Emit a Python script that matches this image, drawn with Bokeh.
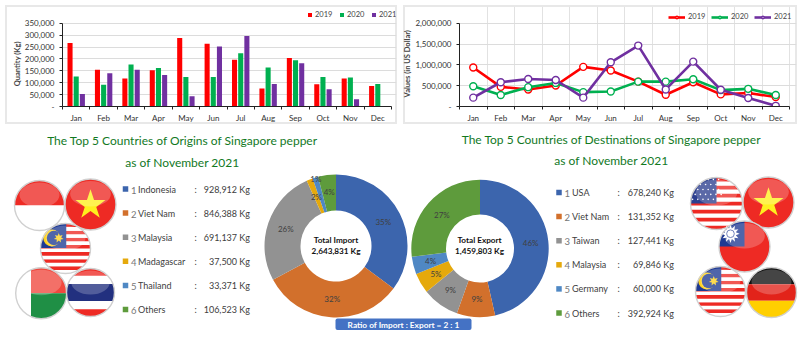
import numpy as np
from bokeh.plotting import figure
from bokeh.layouts import column, row
from bokeh.models import Range1d, FixedTicker, NumeralTickFormatter, Legend, LegendItem
from bokeh.core.properties import value
from bokeh.embed import file_html
from bokeh.resources import INLINE

months = ["Jan", "Feb", "Mar", "Apr", "May", "Jun", "Jul", "Aug", "Sep", "Oct", "Nov", "Dec"]
years = ["2019", "2020", "2021"]
qty_2019 = [267000, 155000, 118000, 153000, 288000, 264000, 197000, 76000, 204000, 94000, 118000, 86000]
qty_2020 = [126000, 92000, 177000, 162000, 124000, 124000, 224000, 164000, 195000, 124000, 122000, 95000]
qty_2021 = [53000, 140000, 155000, 133000, 43000, 253000, 297000, 95000, 182000, 73000, 30000, 0]
val_2019 = [937000, 472000, 410000, 504000, 953000, 866000, 598000, 283000, 583000, 291000, 323000, 228000]
val_2020 = [488000, 276000, 465000, 567000, 346000, 362000, 598000, 598000, 654000, 394000, 425000, 276000]
val_2021 = [213000, 583000, 661000, 638000, 213000, 1063000, 1465000, 410000, 1079000, 402000, 205000, 16000]
qty_ticks = [0, 50000, 100000, 150000, 200000, 250000, 300000, 350000]
val_ticks = [0, 500000, 1000000, 1500000, 2000000]

imp_names = ["Indonesia", "Viet Nam", "Malaysia", "Madagascar", "Thailand", "Others"]
imp_vals = [928912, 846388, 691137, 37500, 33371, 106523]
imp_pct = ["35%", "32%", "26%", "2%", "1%", "4%"]
exp_names = ["USA", "Viet Nam", "Taiwan", "Malaysia", "Germany", "Others"]
exp_vals = [678240, 131352, 127441, 69846, 60000, 392924]
exp_pct = ["46%", "9%", "9%", "5%", "4%", "27%"]
slice_colors = ["#3c65ad", "#d2702c", "#929292", "#e5a90c", "#4f88c4", "#5e9b3c"]
year_colors = ["#ff0000", "#00b050", "#7030a0"]

FONT = value("Lato")
AX = "#222222"
FRAME_TOP_RATIO = 101 / 84  # room above the top tick for the legend
NB = "\u00a0" * 8


def panel_css(x0, x1, y0, y1, w=2, col="#e8e8e8"):
    return {"background": (
        f"linear-gradient(#fff,#fff) {x0+w}px {y0+w}px/{x1-x0-2*w}px {y1-y0-2*w}px no-repeat,"
        f"linear-gradient({col},{col}) {x0}px {y0}px/{x1-x0}px {y1-y0}px no-repeat,#fff")}


def style_top(p, ylabel, ticks, box):
    p.toolbar.logo = None
    p.border_fill_color = None
    p.background_fill_color = None
    p.styles = panel_css(*box)
    p.xaxis.ticker = FixedTicker(ticks=[i + 0.5 for i in range(12)], minor_ticks=list(range(13)))
    p.xaxis.major_label_overrides = {i + 0.5: m for i, m in enumerate(months)}
    p.xaxis.bounds = (0, 12)
    p.xaxis.major_tick_line_color = None
    p.xaxis.major_tick_out = 0
    p.xaxis.major_tick_in = 0
    p.xaxis.minor_tick_out = 3
    p.xaxis.minor_tick_in = 0
    p.xaxis.minor_tick_line_color = AX
    p.xaxis.axis_line_color = AX
    p.xaxis.major_label_standoff = 3
    p.yaxis.ticker = FixedTicker(ticks=ticks)
    p.yaxis.bounds = (ticks[0], ticks[-1])
    p.yaxis.formatter = NumeralTickFormatter(format="0,0")
    p.yaxis.major_label_overrides = {0: "-"}
    p.yaxis.axis_line_color = AX
    p.yaxis.major_tick_line_color = AX
    p.yaxis.major_tick_out = 3
    p.yaxis.major_tick_in = 0
    p.yaxis.minor_tick_line_color = None
    p.yaxis.major_label_standoff = 5
    p.yaxis.axis_label = ylabel + NB
    p.yaxis.axis_label_text_font = "Lato"
    p.yaxis.axis_label_text_font_style = "bold"
    p.yaxis.axis_label_text_font_size = "7.5px"
    p.yaxis.axis_label_standoff = 0
    for ax in (p.xaxis, p.yaxis):
        ax.major_label_text_font = "Lato"
        ax.major_label_text_font_size = "8px"
        ax.major_label_text_color = "#333333"
    p.ygrid.grid_line_color = "#dcdcdc"
    p.ygrid.ticker = FixedTicker(ticks=ticks)
    p.ygrid.bounds = (0, 12)
    p.outline_line_color = None


# ---------- bar chart
p1 = figure(width=400, height=125, output_backend="svg", toolbar_location=None,
            x_range=Range1d(0, 12 * 334 / 329), y_range=Range1d(0, qty_ticks[-1] * FRAME_TOP_RATIO),
            min_border_left=62, min_border_right=4, min_border_top=6, min_border_bottom=18)
style_top(p1, "Quantity (Kg)", qty_ticks, (5, 397, 5, 124))
p1.xgrid.grid_line_color = None
items = []
for k, (q, c) in enumerate(zip([qty_2019, qty_2020, qty_2021], year_colors)):
    x = np.arange(12) + 0.5 + (k - 1) * 0.225
    r = p1.vbar(x=x, top=q, width=0.185, fill_color=c, line_color=None)
    items.append(LegendItem(label=years[k], renderers=[r]))
lg1 = Legend(items=items, orientation="horizontal", location=(245, 87), background_fill_alpha=0,
             border_line_color=None, glyph_width=5, glyph_height=5, spacing=4, label_standoff=3,
             margin=0, padding=0, label_text_font="Lato", label_text_font_size="7.5px",
             label_text_color="#444444")
p1.add_layout(lg1)

# ---------- line chart
p2 = figure(width=400, height=125, output_backend="svg", toolbar_location=None,
            x_range=Range1d(0, 12 * 337 / 330), y_range=Range1d(0, val_ticks[-1] * FRAME_TOP_RATIO),
            min_border_left=59, min_border_right=4, min_border_top=6, min_border_bottom=18)
style_top(p2, "Values (in US Dollar)", val_ticks, (3, 397, 5, 124))
p2.xgrid.grid_line_color = "#e2e2e2"
p2.xgrid.ticker = FixedTicker(ticks=list(range(13)))
p2.xgrid.bounds = (val_ticks[0], val_ticks[-1])
items = []
xm = np.arange(12) + 0.5
for k, (v, c) in enumerate(zip([val_2019, val_2020, val_2021], year_colors)):
    l = p2.line(xm, v, line_color=c, line_width=2.6)
    m = p2.scatter(xm, v, size=7, fill_color="white", line_color=c, line_width=1.4)
    items.append(LegendItem(label=years[k], renderers=[l, m]))
lg2 = Legend(items=items, orientation="horizontal", location=(209, 85), background_fill_alpha=0,
             border_line_color=None, glyph_width=17, glyph_height=6, spacing=3, label_standoff=3,
             margin=0, padding=0, label_text_font="Lato", label_text_font_size="7.5px",
             label_text_color="#444444")
p2.add_layout(lg2)

# ---------- bottom: pixel canvas
p3 = figure(width=800, height=228, output_backend="svg", toolbar_location=None,
            x_range=Range1d(0, 800), y_range=Range1d(0, 228), min_border=0)
p3.axis.visible = False
p3.grid.visible = False
p3.outline_line_color = None


def Y(y):
    return 353 - np.asarray(y, dtype=float)


def txt(x, y, s, size="9px", color="#404040", align="left", style="normal"):
    p3.text([x], [float(Y(y))], text=[s], text_font=FONT, text_font_size=size, text_color=color,
            text_align=align, text_baseline="middle", text_font_style=style)


GREEN = "#12791f"
txt(182, 140, "The Top 5 Countries of Origins of Singapore pepper", "12px", GREEN, "center")
txt(182, 162, "as of November 2021", "12px", GREEN, "center")
txt(611, 139, "The Top 5 Countries of Destinations of Singapore pepper", "12px", GREEN, "center")
txt(611, 160, "as of November 2021", "12px", GREEN, "center")


def legend_block(names, vals, sq_x, y0, num_x, name_x, colon_x, val_x):
    for i, (n, v) in enumerate(zip(names, vals)):
        y = y0 + i * 24.1
        p3.scatter([sq_x], [float(Y(y))], marker="square", size=5.5, fill_color=slice_colors[i], line_color=None)
        txt(num_x, y + 1, str(i + 1), "9.5px", "#777777")
        txt(name_x, y, n)
        txt(colon_x, y, ":")
        txt(val_x, y, f"{v:,} Kg", align="right")


legend_block(imp_names, imp_vals, 125, 188.5, 130.5, 137.5, 194, 249.5)
legend_block(exp_names, exp_vals, 558.5, 192, 564, 571.5, 617, 673.5)


def donut(vals, pcts, cx, cy, r0, r1, label_r):
    vals = np.asarray(vals, dtype=float)
    frac = np.cumsum(vals) / vals.sum()
    a_start = np.pi / 2 - np.concatenate([[0], frac[:-1]]) * 2 * np.pi
    a_end = np.pi / 2 - frac * 2 * np.pi
    p3.annular_wedge([cx] * 6, [float(Y(cy))] * 6, inner_radius=r0, outer_radius=r1,
                     start_angle=a_end, end_angle=a_start, direction="anticlock",
                     fill_color=slice_colors, line_color=None)
    mid = (a_start + a_end) / 2
    lr = np.asarray(label_r, dtype=float)
    p3.text(cx + lr * np.cos(mid), Y(cy) + lr * np.sin(mid), text=pcts, text_font=FONT,
            text_font_size="8px", text_color="#404040", text_align="center", text_baseline="middle")


donut(imp_vals, imp_pct, 335.5, 245.5, 35.5, 71.5, [53, 53, 53, 53, 70, 54])
donut(exp_vals, exp_pct, 479.5, 248, 34, 68.7, [51] * 6)
txt(335.5, 239.5, "Total Import", "8.2px", "#111111", "center", "bold")
txt(335.5, 250, "2,643,831 Kg", "8.2px", "#111111", "center", "bold")
txt(479, 239.5, "Total Export", "8.2px", "#111111", "center", "bold")
txt(479, 250, "1,459,803 Kg", "8.2px", "#111111", "center", "bold")

p3.quad(left=[335], right=[471], top=[float(Y(318))], bottom=[float(Y(329.5))], fill_color="#4472c4",
        line_color=None, border_radius=2)
txt(403, 324, "Ratio of Import : Export = 2 : 1", "8.3px", "white", "center", "bold")


# ---------- flags
def clip(poly, rect):
    x0, x1, y0, y1 = rect
    planes = [(0, x0, 1), (0, x1, -1), (1, y0, 1), (1, y1, -1)]
    for ax, lim, sgn in planes:
        out = []
        for i in range(len(poly)):
            a, b = poly[i], poly[(i + 1) % len(poly)]
            ina, inb = sgn * (a[ax] - lim) >= 0, sgn * (b[ax] - lim) >= 0
            if ina:
                out.append(a)
            if ina != inb:
                t = (lim - a[ax]) / (b[ax] - a[ax])
                out.append((a[0] + t * (b[0] - a[0]), a[1] + t * (b[1] - a[1])))
        poly = out
        if not poly:
            break
    return poly


TH = np.linspace(0, 2 * np.pi, 120, endpoint=False)
UNIT = [(float(np.cos(t)), float(np.sin(t))) for t in TH]


def star(px, py, R, n=5, inner=0.382):
    a = np.pi / 2 + np.arange(2 * n) * np.pi / n
    rad = np.where(np.arange(2 * n) % 2 == 0, R, R * inner)
    return px + rad * np.cos(a), py + rad * np.sin(a)


def flag(cx, cy, r, bands, extra=None):
    yc = float(Y(cy))
    for col, rect in bands:
        poly = clip(UNIT, rect)
        if poly:
            p3.patch([cx + r * a for a, _ in poly], [yc + r * b for _, b in poly], fill_color=col, line_color=None)
    if extra:
        extra(cx, yc, r)
    # gloss and rim
    p3.ellipse([cx], [yc + 0.42 * r], width=1.6 * r, height=1.0 * r, fill_color="white", fill_alpha=0.22, line_color=None)
    p3.circle([cx], [yc], radius=r, fill_color=None, line_color="#d0d0d0", line_width=1.4)


ALL = (-1, 1, -1, 1)
RED = "#ee2a24"


def vn(cx, yc, r):
    xs, ys = star(cx, yc - 0.02 * r, 0.62 * r)
    p3.patch(xs, ys, fill_color="#ffef1e", line_color=None)


def my_stripes():
    edges = np.linspace(-1, 1, 15)
    return [(RED if i % 2 else "white", (-1, 1, edges[i], edges[i + 1])) for i in range(14)]


def my(cx, yc, r):
    p3.circle([cx - 0.55 * r], [yc + 0.42 * r], radius=0.34 * r, fill_color="#ffd21e", line_color=None)
    p3.circle([cx - 0.46 * r], [yc + 0.42 * r], radius=0.29 * r, fill_color="#1f3a93", line_color=None)
    xs, ys = star(cx - 0.27 * r, yc + 0.42 * r, 0.2 * r, n=7, inner=0.5)
    p3.patch(xs, ys, fill_color="#ffd21e", line_color=None)


MY_BANDS = my_stripes() + [("#1f3a93", (-1, 0.03, 0.02, 1))]


def us(cx, yc, r):
    px, py = [], []
    for j in range(5):
        for i in range(6):
            px.append(cx + r * (-0.92 + i * 0.2 + (j % 2) * 0.1))
            py.append(yc + r * (0.16 + j * 0.19))
    p3.scatter(px, py, marker="circle", size=1.6, fill_color="white", line_color=None)


def tw(cx, yc, r):
    xs, ys = star(cx - 0.55 * r, yc + 0.5 * r, 0.36 * r, n=12, inner=0.6)
    p3.patch(xs, ys, fill_color="white", line_color=None)
    p3.circle([cx - 0.55 * r], [yc + 0.5 * r], radius=0.15 * r, fill_color="white", line_color="#1f3a93", line_width=0.8)


us_edges = np.linspace(-1, 1, 14)
US_BANDS = [(RED if i % 2 == 0 else "white", (-1, 1, us_edges[i], us_edges[i + 1])) for i in range(13)]
US_BANDS += [("#2d3f8f", (-1, 0.0, 0.0, 1))]

# origins
flag(39, 205, 25, [(RED, (-1, 1, 0, 1)), ("white", (-1, 1, -1, 0))])
flag(90, 204, 25.5, [(RED, ALL)], vn)
flag(65, 248, 25, MY_BANDS, my)
flag(40.7, 292.7, 25.5, [("white", (-1, -0.4, -1, 1)), ("#f0483e", (-0.4, 1, 0, 1)), ("#1f8f45", (-0.4, 1, -1, 0))])
flag(90, 292, 24, [(RED, ALL), ("white", (-1, 1, -0.7, 0.7)), ("#22307f", (-1, 1, -0.35, 0.35))])
# destinations
flag(716, 203, 26, US_BANDS, us)
flag(768, 202, 25.5, [(RED, ALL)], vn)
flag(744, 246, 25.5, [(RED, ALL), ("#1f3a93", (-1, 0, 0, 1))], tw)
flag(720, 291, 25, MY_BANDS, my)
flag(771, 292, 25, [("#111111", (-1, 1, 0.33, 1)), ("#e2231a", (-1, 1, -0.33, 0.33)), ("#ffcf00", (-1, 1, -1, -0.33))])

page = column(row(p1, p2, spacing=0), p3, spacing=0)
open("out.html", "w").write(file_html(page, INLINE))
